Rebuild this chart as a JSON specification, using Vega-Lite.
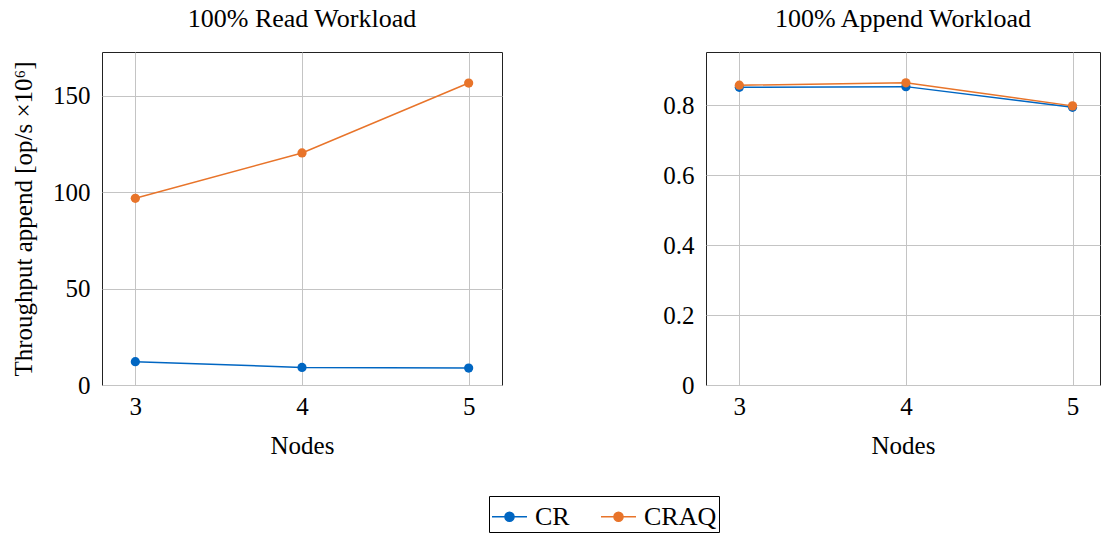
{
  "$schema": "https://vega.github.io/schema/vega-lite/v6.json",
  "padding": {"left": 11, "top": 5, "right": 0, "bottom": 0},
  "background": "white",
  "datasets": {
    "d": [
      {"panel": "read", "nodes": 3, "series": "CR", "value": 12.1},
      {"panel": "read", "nodes": 4, "series": "CR", "value": 9.1},
      {"panel": "read", "nodes": 5, "series": "CR", "value": 8.8},
      {"panel": "read", "nodes": 3, "series": "CRAQ", "value": 96.9},
      {"panel": "read", "nodes": 4, "series": "CRAQ", "value": 120.4},
      {"panel": "read", "nodes": 5, "series": "CRAQ", "value": 156.7},
      {"panel": "append", "nodes": 3, "series": "CR", "value": 0.851},
      {"panel": "append", "nodes": 4, "series": "CR", "value": 0.853},
      {"panel": "append", "nodes": 5, "series": "CR", "value": 0.794},
      {"panel": "append", "nodes": 3, "series": "CRAQ", "value": 0.857},
      {"panel": "append", "nodes": 4, "series": "CRAQ", "value": 0.864},
      {"panel": "append", "nodes": 5, "series": "CRAQ", "value": 0.798}
    ]
  },
  "config": {
    "font": "Liberation Serif",
    "view": {"stroke": "#222", "strokeWidth": 1},
    "axis": {
      "labelFont": "Liberation Serif",
      "titleFont": "Liberation Serif",
      "labelFontSize": 25,
      "titleFontSize": 25,
      "titleFontWeight": "normal",
      "labelColor": "#000",
      "titleColor": "#000",
      "gridColor": "#c4c4c4",
      "gridWidth": 1,
      "ticks": false,
      "tickSize": 0,
      "domain": false
    },
    "legend": {"labelFont": "Liberation Serif"},
    "title": {"font": "Liberation Serif", "fontSize": 26, "fontWeight": "normal", "color": "#000", "offset": 20}
  },
  "spacing": 159,
  "hconcat": [
    {
      "title": "100% Read Workload",
      "width": 400,
      "height": 333,
      "data": {"name": "d"},
      "transform": [{"filter": "datum.panel === 'read'"}],
      "encoding": {
        "x": {"field": "nodes", "type": "quantitative", "scale": {"domain": [2.8, 5.2], "nice": false, "zero": false},
              "axis": {"values": [3, 4, 5], "title": "Nodes", "labelFont": "Liberation Serif", "labelPadding": 9, "titlePadding": 14}},
        "y": {"field": "value", "type": "quantitative", "scale": {"domain": [0, 172.8], "nice": false},
              "axis": {"values": [0, 50, 100, 150], "title": "Throughput append [op/s ×10⁶]", "labelFont": "Liberation Serif", "labelPadding": 12, "titlePadding": 16}},
        "color": {"field": "series", "type": "nominal",
                  "scale": {"domain": ["CR", "CRAQ"], "range": ["#0066C2", "#E8742A"]},
                  "legend": {"orient": "none", "legendX": 387, "legendY": 444, "direction": "horizontal", "title": null,
                             "strokeColor": "#000", "padding": 2, "labelFontSize": 26, "labelFont": "Liberation Serif", "labelColor": "#000",
                             "symbolType": "M-1,0H1M0.26,0A0.26,0.26,0,1,1,-0.26,0A0.26,0.26,0,1,1,0.26,0Z",
                             "symbolSize": 1225, "symbolStrokeWidth": 1.5, "columnPadding": 28, "labelOffset": 7}}
      },
      "layer": [
        {"mark": {"type": "line", "strokeWidth": 1.5}},
        {"mark": {"type": "circle", "size": 85, "opacity": 1}}
      ]
    },
    {
      "title": "100% Append Workload",
      "width": 394,
      "height": 333,
      "data": {"name": "d"},
      "transform": [{"filter": "datum.panel === 'append'"}],
      "encoding": {
        "x": {"field": "nodes", "type": "quantitative", "scale": {"domain": [2.8, 5.165], "nice": false, "zero": false},
              "axis": {"values": [3, 4, 5], "title": "Nodes", "labelFont": "Liberation Serif", "labelPadding": 9, "titlePadding": 14}},
        "y": {"field": "value", "type": "quantitative", "scale": {"domain": [0, 0.952], "nice": false},
              "axis": {"values": [0, 0.2, 0.4, 0.6, 0.8], "format": "~g", "title": null, "labelFont": "Liberation Serif", "labelPadding": 12}},
        "color": {"field": "series", "type": "nominal",
                  "scale": {"domain": ["CR", "CRAQ"], "range": ["#0066C2", "#E8742A"]}}
      },
      "layer": [
        {"mark": {"type": "line", "strokeWidth": 1.5}},
        {"mark": {"type": "circle", "size": 85, "opacity": 1}}
      ]
    }
  ]
}
